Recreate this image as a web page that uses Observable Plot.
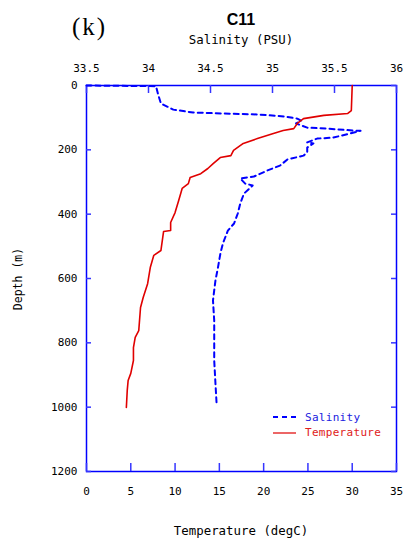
<!DOCTYPE html>
<html><head><meta charset="utf-8">
<script src="https://cdn.jsdelivr.net/npm/d3@7"></script>
<script src="https://cdn.jsdelivr.net/npm/@observablehq/plot@0.6"></script>
<style>
body{margin:0;background:#fff;}
#wrap{position:relative;width:406px;height:542px;overflow:hidden;font-family:"DejaVu Sans Mono",monospace;}
#wrap svg{position:absolute;left:0;top:0;}
.t{position:absolute;white-space:nowrap;}
</style></head><body><div id="wrap"></div>
<script>
// Temperature profile (degC) vs depth (m)
const tempDepth = [0,78,87,93,103,118,134,140,149,165,180,202,218,224,243,258,274,286,305,320,358,395,426,451,454,513,528,566,616,659,690,762,783,815,855,895,917,948,1001];
const temperature = [30.0,29.9,29.5,26.8,24.5,23.8,23.4,22.2,21.1,19.3,17.7,16.6,16.3,15.1,14.3,13.7,12.9,11.7,11.5,10.8,10.4,10.0,9.5,9.5,8.7,8.4,7.6,7.2,6.9,6.4,6.1,5.9,5.5,5.3,5.3,5.0,4.7,4.6,4.5];
// Salinity profile (PSU) vs depth (m)
const salDepth = [0,2,31,56,75,84,87,90,96,103,109,118,131,134,140,141,149,162,165,177,180,193,208,218,230,249,264,283,289,305,311,336,367,398,429,451,491,522,566,606,668,731,802,855,927,995];
const salinity = [33.5,34.06,34.08,34.10,34.20,34.36,34.60,34.88,35.09,35.20,35.23,35.19,35.28,35.44,35.65,35.71,35.63,35.49,35.36,35.28,35.33,35.28,35.28,35.25,35.12,35.06,34.96,34.85,34.74,34.78,34.84,34.77,34.74,34.72,34.69,34.64,34.60,34.58,34.56,34.54,34.52,34.53,34.53,34.53,34.54,34.55];
// Tick values
const tempTicks = [0,5,10,15,20,25,30,35];
const salTicks = [33.5,34,34.5,35,35.5,36];
const depthTicks = [0,200,400,600,800,1000,1200];

const tempData = tempDepth.map((d,i)=>({depth:d, t:temperature[i]}));
const salData = salDepth.map((d,i)=>({depth:d, s:salinity[i]}));
// secondary (salinity) axis mapped onto the temperature x scale
const salToX = s => (s-33.5)/(36-33.5)*35;
const xToSal = x => Math.round((33.5 + x/35*2.5)*10)/10;

const W = 406, H = 542, mL = 86, mR = 10, mT = 85, mB = 71;
const innerW = W - mL - mR, innerH = H - mT - mB;
const blue = "#0000ff";
const tickStroke = "#3535ff";
const chart = Plot.plot({
  width:W, height:H,
  marginLeft:mL, marginRight:mR, marginTop:mT, marginBottom:mB,
  style:{fontFamily:"DejaVu Sans Mono, monospace", fontSize:"11px", color:"#000", background:"transparent"},
  x:{domain:[0,35]},
  y:{domain:[0,1200], reverse:true},
  marks:[
    Plot.axisX({ticks:tempTicks, anchor:"bottom", tickSize:0, tickPadding:15.5, label:null, tickFormat:d=>String(d)}),
    Plot.axisX({ticks:salTicks.map(salToX), anchor:"top", tickSize:0, tickPadding:14, label:null, tickFormat:d=>String(xToSal(d))}),
    Plot.axisY({ticks:depthTicks, anchor:"left", tickSize:0, tickPadding:9, label:null, tickFormat:d=>String(d)}),
    Plot.frame({stroke:blue, strokeWidth:1.5}),
    // inward tick marks on all four sides
    Plot.ruleX(tempTicks, {x:d=>d, insetTop:innerH-8, stroke:tickStroke, strokeWidth:1.5}),
    Plot.ruleX(salTicks.map(salToX), {x:d=>d, insetBottom:innerH-8, stroke:tickStroke, strokeWidth:1.5}),
    Plot.ruleY(depthTicks, {y:d=>d, insetRight:innerW-5, stroke:tickStroke, strokeWidth:1.5}),
    Plot.ruleY(depthTicks, {y:d=>d, insetLeft:innerW-5, stroke:tickStroke, strokeWidth:1.5}),
    Plot.line(salData, {x:d=>salToX(d.s), y:"depth", stroke:blue, strokeWidth:2, strokeDasharray:"5,4"}),
    Plot.line(tempData, {x:"t", y:"depth", stroke:"#e00000", strokeWidth:1.6})
  ]
});
const wrap = document.getElementById("wrap");
wrap.appendChild(chart);

function label(text, css){
  const d = document.createElement("div");
  d.className = "t"; d.textContent = text;
  Object.assign(d.style, css);
  wrap.appendChild(d);
  return d;
}
label("(k)", {left:"72px", top:"12px", fontFamily:"Liberation Serif, serif", fontSize:"25px", lineHeight:"30px", letterSpacing:"2px"});
label("C11", {left:"141px", width:"200px", textAlign:"center", top:"10px", fontFamily:"Liberation Sans, sans-serif", fontWeight:"bold", fontSize:"16px", lineHeight:"20px"});
label("Salinity (PSU)", {left:"141px", width:"200px", textAlign:"center", top:"32px", fontSize:"12.4px", lineHeight:"16px"});
label("Temperature (degC)", {left:"141px", width:"200px", textAlign:"center", top:"523px", fontSize:"12.4px", lineHeight:"16px"});
label("Depth (m)", {left:"-32px", width:"100px", textAlign:"center", top:"271px", fontSize:"11.5px", lineHeight:"16px", transform:"rotate(-90deg)"});

// Legend (inside the frame)
const leg = document.createElementNS("http://www.w3.org/2000/svg","svg");
leg.setAttribute("width","406"); leg.setAttribute("height","542");
leg.style.position="absolute"; leg.style.left="0"; leg.style.top="0";
leg.innerHTML = `<line x1="273" x2="296" y1="417" y2="417" stroke="${blue}" stroke-width="2" stroke-dasharray="5,4"/>
<line x1="273" x2="296" y1="433" y2="433" stroke="#e00000" stroke-width="1.2"/>`;
wrap.appendChild(leg);
label("Salinity", {left:"305px", top:"410px", fontSize:"11px", lineHeight:"16px", color:"#2020e0", letterSpacing:"0.3px"});
label("Temperature", {left:"305px", top:"425px", fontSize:"11px", lineHeight:"16px", color:"#e02020", letterSpacing:"0.3px"});
</script>
</body></html>
